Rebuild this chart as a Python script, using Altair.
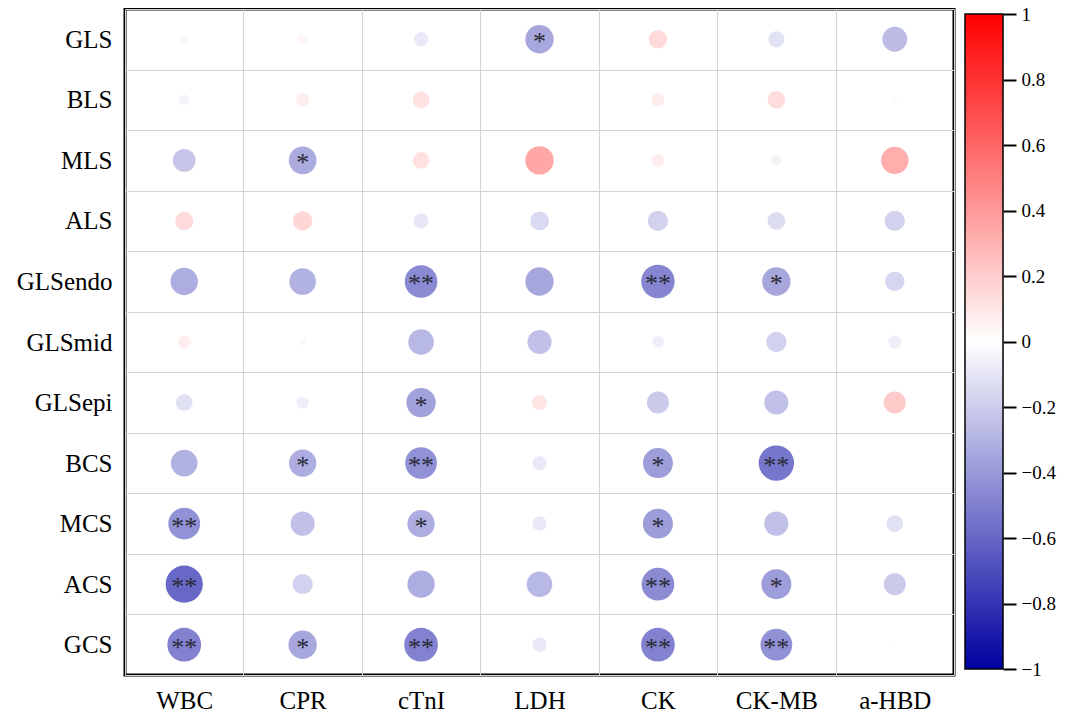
import altair as alt
import pandas as pd

rows = ["GLS", "BLS", "MLS", "ALS", "GLSendo", "GLSmid", "GLSepi", "BCS", "MCS", "ACS", "GCS"]
cols = ["WBC", "CPR", "cTnI", "LDH", "CK", "CK-MB", "a-HBD"]

r_GLS     = [-0.03,  0.05, -0.11, -0.43,  0.18, -0.14, -0.33]
r_BLS     = [-0.06,  0.09,  0.15,  0.00,  0.09,  0.17,  0.02]
r_MLS     = [-0.28, -0.41,  0.15,  0.43,  0.09, -0.06,  0.40]
r_ALS     = [ 0.18,  0.20, -0.12, -0.19, -0.22, -0.17, -0.22]
r_GLSendo = [-0.40, -0.38, -0.57, -0.43, -0.60, -0.43, -0.20]
r_GLSmid  = [ 0.09, -0.03, -0.35, -0.31, -0.08, -0.22, -0.09]
r_GLSepi  = [-0.15, -0.08, -0.46,  0.12, -0.26, -0.31,  0.26]
r_BCS     = [-0.38, -0.40, -0.54, -0.11, -0.48, -0.67,  0.01]
r_MCS     = [-0.54, -0.31, -0.40, -0.11, -0.48, -0.31, -0.15]
r_ACS     = [-0.74, -0.22, -0.40, -0.35, -0.57, -0.48, -0.26]
r_GCS     = [-0.61, -0.43, -0.61, -0.11, -0.61, -0.54, -0.01]

s_GLS     = ["", "", "", "*", "", "", ""]
s_BLS     = ["", "", "", "", "", "", ""]
s_MLS     = ["", "*", "", "", "", "", ""]
s_ALS     = ["", "", "", "", "", "", ""]
s_GLSendo = ["", "", "**", "", "**", "*", ""]
s_GLSmid  = ["", "", "", "", "", "", ""]
s_GLSepi  = ["", "", "*", "", "", "", ""]
s_BCS     = ["", "*", "**", "", "*", "**", ""]
s_MCS     = ["**", "", "*", "", "*", "", ""]
s_ACS     = ["**", "", "", "", "**", "*", ""]
s_GCS     = ["**", "*", "**", "", "**", "**", ""]

values = [r_GLS, r_BLS, r_MLS, r_ALS, r_GLSendo, r_GLSmid, r_GLSepi, r_BCS, r_MCS, r_ACS, r_GCS]
sigs = [s_GLS, s_BLS, s_MLS, s_ALS, s_GLSendo, s_GLSmid, s_GLSepi, s_BCS, s_MCS, s_ACS, s_GCS]

cbar_ticks = [-1, -0.8, -0.6, -0.4, -0.2, 0, 0.2, 0.4, 0.6, 0.8, 1]

recs = []
for i, rname in enumerate(rows):
    for j, cname in enumerate(cols):
        recs.append({"row": rname, "col": cname, "r": values[i][j],
                     "absr": abs(values[i][j]), "sig": sigs[i][j]})
df = pd.DataFrame(recs)

FONT = "Liberation Serif"
BLUE, WHITE, RED = "#0000a0", "#ffffff", "#ff0000"
W, H = 829, 666

xenc = alt.X("col:N", sort=cols, title=None,
             scale=alt.Scale(paddingInner=0, paddingOuter=0),
             axis=alt.Axis(orient="bottom", ticks=False, domain=False, grid=True,
                           tickBand="extent", gridColor="#d4d4d4", gridWidth=1,
                           labelAngle=0, labelFont=FONT, labelFontSize=25,
                           labelColor="black", labelPadding=13))
yenc = alt.Y("row:N", sort=rows, title=None,
             scale=alt.Scale(paddingInner=0, paddingOuter=0),
             axis=alt.Axis(orient="left", ticks=False, domain=False, grid=True,
                           tickBand="extent", gridColor="#d4d4d4", gridWidth=1,
                           labelFont=FONT, labelFontSize=25, labelColor="black",
                           labelPadding=13))

base = alt.Chart(df)
circles = base.mark_circle(opacity=0.8).encode(
    x=xenc, y=yenc,
    size=alt.Size("absr:Q", scale=alt.Scale(domain=[0, 1], range=[0, 1870], zero=True), legend=None),
    color=alt.Color("r:Q", scale=alt.Scale(domain=[-1, 0, 1], range=[BLUE, WHITE, RED],
                                           interpolate="rgb"), legend=None),
)
stars = base.transform_filter(alt.datum.sig != "").mark_text(
    font=FONT, fontSize=26, color="#2a2a35", baseline="middle", align="center", dy=3
).encode(x=alt.X("col:N", sort=cols), y=alt.Y("row:N", sort=rows), text="sig:N")

main = alt.layer(circles, stars)

# colour bar drawn to the right of the plot area, with its own right-hand axis
CB_X0, CB_W = W + 11, 38
cb_df = pd.DataFrame({"lo": [min(cbar_ticks)], "hi": [max(cbar_ticks)]})
cbar = alt.Chart(cb_df).mark_rect(
    fill=alt.Gradient(gradient="linear",
                      stops=[alt.GradientStop(offset=0, color=BLUE),
                             alt.GradientStop(offset=0.5, color=WHITE),
                             alt.GradientStop(offset=1, color=RED)],
                      x1=0, x2=0, y1=1, y2=0),
    stroke="black", strokeWidth=1.5, clip=False,
).encode(
    x=alt.value(CB_X0), x2=alt.value(CB_X0 + CB_W),
    y=alt.Y("lo:Q", title=None,
            scale=alt.Scale(domain=[-1.0183, 1.0153], nice=False, zero=False),
            axis=alt.Axis(orient="right", values=cbar_ticks, format=".1~f",
                          offset=CB_X0 + CB_W - W,
                          domain=False, grid=False, ticks=True, tickSize=13,
                          tickWidth=2, tickColor="black", labelFont=FONT,
                          labelFontSize=19, labelColor="black", labelPadding=5)),
    y2="hi:Q",
)

chart = alt.layer(main, cbar).resolve_scale(y="independent").properties(
    width=W, height=H,
    view=alt.ViewBackground(stroke="black", strokeWidth=3),
    padding={"left": 117, "top": 1, "right": 106, "bottom": 37},
    autosize=alt.AutoSizeParams(type="none"),
    background="white",
)

chart.save("out.html", embed_options={"renderer": "svg", "actions": False})
